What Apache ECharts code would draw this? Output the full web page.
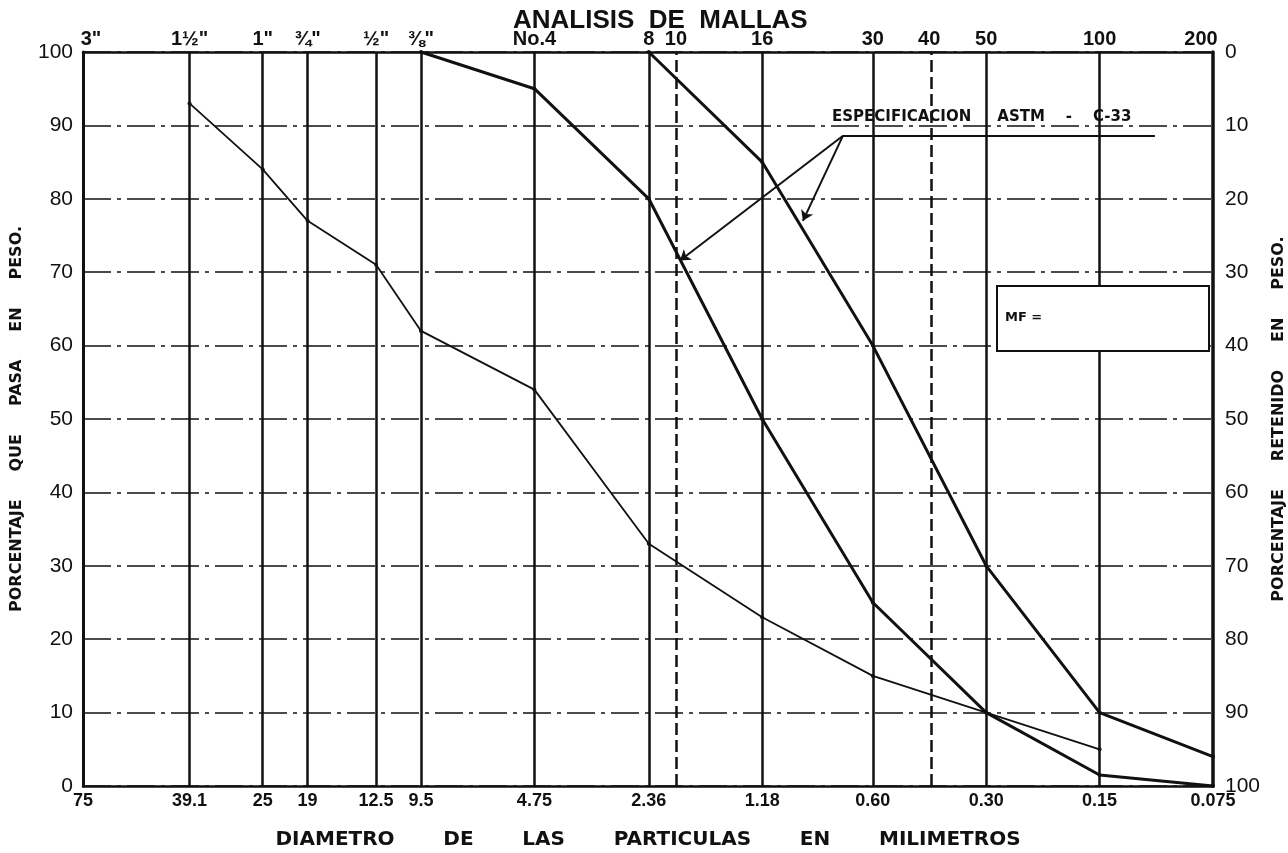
<!DOCTYPE html>
<html><head><meta charset="utf-8">
<script src="https://cdn.jsdelivr.net/npm/echarts@6/dist/echarts.min.js"></script>
<style>html,body{margin:0;padding:0;background:#fff}#c{width:1288px;height:853px}</style>
</head><body><div id="c"></div>
<script>
// ---- data ----
const sieveMM = [75, 39.1, 25, 19, 12.5, 9.5, 4.75, 2.36, 1.18, 0.60, 0.30, 0.15, 0.075];
const sieveLabels = ['75', '39.1', '25', '19', '12.5', '9.5', '4.75', '2.36', '1.18', '0.60', '0.30', '0.15', '0.075'];
const meshMM = [75, 39.1, 25, 19, 12.5, 9.5, 4.75, 2.36, 2.0, 1.18, 0.60, 0.425, 0.30, 0.15, 0.075];
const meshLabels = ['3"', '1½"', '1"', '¾"', '½"', '⅜"', 'No.4', '8', '10', '16', '30', '40', '50', '100', '200'];
const dashedMM = [2.0, 0.425];
const sampleMM = [39.1, 25, 19, 12.5, 9.5, 4.75, 2.36, 1.18, 0.60, 0.30, 0.15];
const samplePass = [93, 84, 77, 71, 62, 54, 33, 23, 15, 10, 5];
const specLowMM = [9.5, 4.75, 2.36, 1.18, 0.60, 0.30, 0.15, 0.075];
const specLowPass = [100, 95, 80, 50, 25, 10, 1.5, 0];
const specHighMM = [2.36, 1.18, 0.60, 0.30, 0.15, 0.075];
const specHighPass = [100, 85, 60, 30, 10, 4];
// annotation anchors (mm, % passing)
const noteApex = [0.72, 88.6];
const noteEnd = [0.107, 88.6];
const arrowTips = [[1.95, 71.6], [0.92, 77]];

// ---- chart ----
const INK = '#111';
const chart = echarts.init(document.getElementById('c'));
const logX = {
  type: 'log', logBase: 10, min: 0.075, max: 75, inverse: true,
  axisLabel: { show: false }, axisTick: { show: false },
  splitLine: { show: false }, minorTick: { show: false }, minorSplitLine: { show: false }
};
const nameFont = { fontFamily: 'DejaVu Sans', fontWeight: 'bold', color: INK };
const pairs = (xs, ys) => xs.map((x, i) => [x, ys[i]]);

const option = {
  backgroundColor: '#fff',
  animation: false,
  title: {
    text: 'ANALISIS  DE  MALLAS', left: 508, top: 3,
    textStyle: { fontFamily: 'Liberation Sans', fontSize: 26, fontWeight: 'bold', color: INK }
  },
  grid: { left: 83, right: 75, top: 52, bottom: 67, containLabel: false, outerBoundsMode: 'none' },
  xAxis: [
    Object.assign({}, logX, {
      position: 'bottom',
      axisLine: { show: true, onZero: false, lineStyle: { color: INK, width: 2.5 } },
      name: 'DIAMETRO       DE       LAS       PARTICULAS       EN       MILIMETROS',
      nameLocation: 'middle', nameGap: 44,
      nameTextStyle: Object.assign({ fontSize: 20 }, nameFont)
    }),
    Object.assign({}, logX, {
      position: 'top',
      axisLine: { show: true, onZero: false, lineStyle: { color: INK, width: 2.5 } }
    })
  ],
  yAxis: [
    {
      type: 'value', min: 0, max: 100, interval: 10,
      axisLine: { show: true, lineStyle: { color: INK, width: 3 } },
      axisTick: { show: false },
      axisLabel: { fontSize: 21, color: INK, margin: 10, fontFamily: 'Liberation Sans' },
      splitLine: { show: true, lineStyle: { color: INK, width: 1.5, type: [28, 6, 4, 6] } },
      name: 'PORCENTAJE     QUE     PASA     EN     PESO.',
      nameLocation: 'middle', nameRotate: 90, nameGap: 58,
      nameTextStyle: Object.assign({ fontSize: 16 }, nameFont)
    },
    {
      type: 'value', min: 0, max: 100, interval: 10, inverse: true, position: 'right',
      axisLine: { show: true, lineStyle: { color: INK, width: 3.5 } },
      axisTick: { show: false },
      axisLabel: { fontSize: 21, color: INK, margin: 12, fontFamily: 'Liberation Sans' },
      splitLine: { show: false },
      name: 'PORCENTAJE     RETENIDO     EN     PESO.',
      nameLocation: 'middle', nameRotate: 90, nameGap: 57,
      nameTextStyle: Object.assign({ fontSize: 16 }, nameFont)
    }
  ],
  series: [
    {
      name: 'sieves', type: 'scatter', symbolSize: 0, silent: true,
      itemStyle: { opacity: 1 },
      data: sieveMM.map((d, i) => ({ name: sieveLabels[i], value: [d, 0] })),
      label: { show: true, position: 'bottom', distance: 6, formatter: '{b}',
        fontFamily: 'Liberation Sans', fontWeight: 'bold', fontSize: 18, color: INK },
      markLine: {
        silent: true, symbol: ['none', 'none'], label: { show: false },
        lineStyle: { color: INK, width: 2.5, type: 'solid' },
        data: sieveMM.map(d => ({ xAxis: d }))
      },
      z: 1
    },
    {
      name: 'mesh', type: 'scatter', symbolSize: 0, silent: true,
      itemStyle: { opacity: 1 },
      data: meshMM.map((d, i) => ({
        name: meshLabels[i], value: [d, 100],
        label: { offset: [i === 0 ? 8 : (i === meshMM.length - 1 ? -12 : 0), 0] }
      })),
      label: { show: true, position: 'top', distance: 3, formatter: '{b}',
        fontFamily: 'Liberation Sans', fontWeight: 'bold', fontSize: 20, color: INK },
      markLine: {
        silent: true, symbol: ['none', 'none'], label: { show: false },
        lineStyle: { color: INK, width: 2.5, type: [12, 5] },
        data: dashedMM.map(d => ({ xAxis: d }))
      },
      z: 1
    },
    {
      name: 'Muestra', type: 'line', data: pairs(sampleMM, samplePass),
      symbol: 'circle', symbolSize: 4, itemStyle: { color: INK },
      lineStyle: { color: INK, width: 1.8 }, z: 3
    },
    {
      name: 'Especificación inferior', type: 'line', data: pairs(specLowMM, specLowPass),
      symbol: 'circle', symbolSize: 4, itemStyle: { color: INK },
      lineStyle: { color: INK, width: 3 }, z: 3
    },
    {
      name: 'Especificación superior', type: 'line', data: pairs(specHighMM, specHighPass),
      symbol: 'circle', symbolSize: 4, itemStyle: { color: INK },
      lineStyle: { color: INK, width: 3 }, z: 3,
      markLine: {
        silent: true, symbolSize: 10, label: { show: false },
        lineStyle: { color: INK, width: 2, type: 'solid' },
        data: [
          [{ coord: noteApex, symbol: 'none' }, { coord: noteEnd, symbol: 'none' }],
          [{ coord: noteApex, symbol: 'none' }, { coord: arrowTips[0], symbol: 'arrow' }],
          [{ coord: noteApex, symbol: 'none' }, { coord: arrowTips[1], symbol: 'arrow' }]
        ]
      }
    }
  ],
  graphic: [
    { type: 'text', left: 832, top: 110, z: 10,
      style: { text: 'ESPECIFICACION     ASTM    -    C-33', fill: INK,
        fontFamily: 'DejaVu Sans', fontWeight: 'bold', fontSize: 15 } },
    { type: 'rect', left: 996, top: 285, z: 10,
      shape: { width: 212, height: 65 },
      style: { fill: '#fff', stroke: INK, lineWidth: 2 } },
    { type: 'text', left: 1005, top: 311, z: 11,
      style: { text: 'MF =', fill: INK, fontFamily: 'DejaVu Sans', fontWeight: 'bold', fontSize: 13 } }
  ]
};
chart.setOption(option);
</script></body></html>
